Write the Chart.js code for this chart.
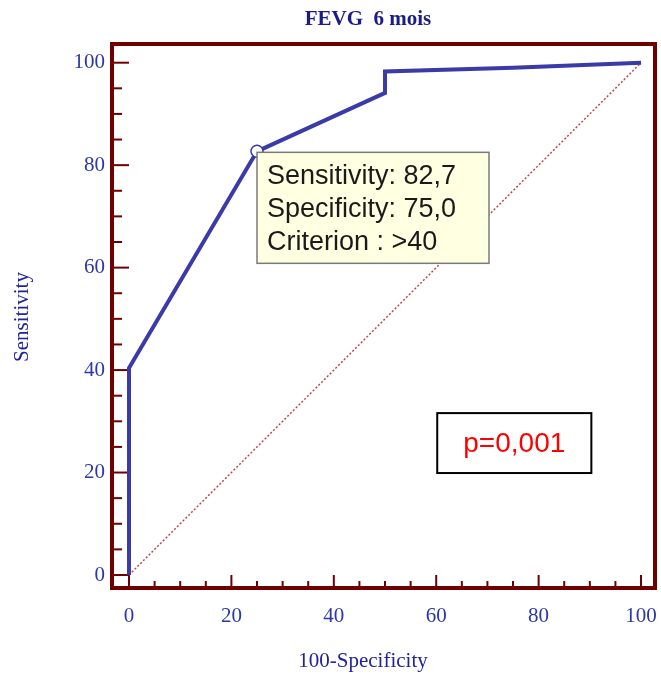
<!DOCTYPE html>
<html>
<head>
<meta charset="utf-8">
<script src="https://cdn.jsdelivr.net/npm/chart.js@4/dist/chart.umd.min.js"></script>
<style>
  html, body { margin: 0; padding: 0; background: #ffffff; }
  #wrap { width: 661px; height: 677px; position: relative; }
</style>
</head>
<body>
<div id="wrap"><canvas id="roc" width="661" height="677"></canvas></div>
<script>
// ROC curve for FEVG at 6 months
const criterionSens = 82.7;
const criterionSpec = 75.0;
const criterionText = '>40';
const rocFpr  = [0, 0, 100 - criterionSpec, 50, 50, 75, 100];   // 100-Specificity
const rocSens = [0, 40.4, criterionSens, 94.1, 98.3, 99.0, 100]; // Sensitivity
const refLine = [0, 100];
const axisTicks = [0, 20, 40, 60, 80, 100];
const minorStep = 5;
const pValueText = 'p=0,001';
const titleText = 'FEVG  6 mois';
const xTitle = '100-Specificity';
const yTitle = 'Sensitivity';

const fmt = v => v.toFixed(1).replace('.', ',');
const infoLines = [
  'Sensitivity: ' + fmt(criterionSens),
  'Specificity: ' + fmt(criterionSpec),
  'Criterion : ' + criterionText
];

const FRAME = '#6e0000';
const LABEL = '#2c38a8';
const CURVE = '#3a3aa8';
const SERIF = '"Liberation Serif", "Times New Roman", serif';
const SANS = '"Liberation Sans", Arial, sans-serif';

const curveData = rocFpr.map((x, i) => ({ x, y: rocSens[i] }));
const critIndex = rocFpr.findIndex((x, i) => x === 100 - criterionSpec && rocSens[i] === criterionSens);

const decor = {
  id: 'decor',
  beforeDatasetsDraw(chart) {
    const { ctx } = chart;
    const xs = chart.scales.x, ys = chart.scales.y;
    const a = chart.chartArea;
    ctx.save();
    ctx.strokeStyle = FRAME;
    ctx.lineWidth = 2;
    // inward tick marks on the left and bottom edges
    for (let v = 0; v <= 100; v += minorStep) {
      const major = v % 20 === 0;
      const py = ys.getPixelForValue(v);
      ctx.beginPath();
      ctx.moveTo(a.left, py);
      ctx.lineTo(major ? xs.getPixelForValue(0) : a.left + 10, py);
      ctx.stroke();
      const px = xs.getPixelForValue(v);
      ctx.beginPath();
      ctx.moveTo(px, a.bottom);
      ctx.lineTo(px, major ? ys.getPixelForValue(0) : a.bottom - 7);
      ctx.stroke();
    }
    ctx.restore();
  },
  afterDatasetsDraw(chart) {
    const { ctx } = chart;
    const xs = chart.scales.x, ys = chart.scales.y;
    const a = chart.chartArea;
    ctx.save();
    // plot frame
    ctx.strokeStyle = FRAME;
    ctx.lineWidth = 4;
    ctx.strokeRect(a.left, a.top, a.right - a.left, a.bottom - a.top);

    // criterion info box anchored at the marked point
    const cx = xs.getPixelForValue(100 - criterionSpec);
    const cy = ys.getPixelForValue(criterionSens);
    const bx = cx, by = cy + 1, bw = 232, bh = 111;
    ctx.fillStyle = '#ffffe1';
    ctx.fillRect(bx, by, bw, bh);
    ctx.strokeStyle = '#7a7a7a';
    ctx.lineWidth = 1.5;
    ctx.strokeRect(bx, by, bw, bh);
    ctx.fillStyle = '#1a1a1a';
    ctx.font = '27px ' + SANS;
    ctx.textAlign = 'left';
    ctx.textBaseline = 'middle';
    infoLines.forEach((t, i) => ctx.fillText(t, bx + 10, by + 24 + i * 33));

    // p-value box
    const px0 = xs.getPixelForValue(60.2), px1 = xs.getPixelForValue(90.3);
    const py0 = ys.getPixelForValue(31.6), py1 = ys.getPixelForValue(19.9);
    ctx.fillStyle = '#ffffff';
    ctx.fillRect(px0, py0, px1 - px0, py1 - py0);
    ctx.strokeStyle = '#000000';
    ctx.lineWidth = 2;
    ctx.strokeRect(px0, py0, px1 - px0, py1 - py0);
    ctx.fillStyle = '#ff0000';
    ctx.font = '28px ' + SANS;
    ctx.textAlign = 'center';
    ctx.fillText(pValueText, (px0 + px1) / 2, (py0 + py1) / 2 + 1);
    ctx.restore();
  },
  afterDraw(chart) {
    const { ctx } = chart;
    ctx.save();
    ctx.textAlign = 'center';
    ctx.textBaseline = 'middle';
    ctx.fillStyle = '#1c1c86';
    ctx.font = 'bold 21px ' + SERIF;
    ctx.fillText(titleText, 368, 20);
    ctx.fillStyle = '#22229a';
    ctx.font = '21px ' + SERIF;
    ctx.fillText(xTitle, 363, 661);
    ctx.translate(22, 317);
    ctx.rotate(-Math.PI / 2);
    ctx.fillText(yTitle, 0, 0);
    ctx.restore();
  }
};

new Chart(document.getElementById('roc'), {
  type: 'scatter',
  data: {
    datasets: [
      {
        label: 'Reference',
        data: refLine.map(v => ({ x: v, y: v })),
        showLine: true,
        borderColor: '#c04848',
        borderWidth: 1.5,
        borderDash: [2, 2],
        pointRadius: 0,
        order: 2
      },
      {
        label: 'ROC',
        data: curveData,
        showLine: true,
        borderColor: CURVE,
        borderWidth: 4,
        borderJoinStyle: 'miter',
        pointRadius: curveData.map((p, i) => i === critIndex ? 6 : 0),
        pointBackgroundColor: '#ffffff',
        pointBorderColor: CURVE,
        pointBorderWidth: 1.5,
        order: 1
      }
    ]
  },
  options: {
    responsive: false,
    animation: false,
    devicePixelRatio: 1,
    layout: { padding: { top: 44, right: 6, left: 0, bottom: 0 } },
    plugins: { legend: { display: false }, tooltip: { enabled: false }, title: { display: false } },
    scales: {
      x: {
        type: 'linear',
        min: -3.32, max: 102.73,
        afterBuildTicks: s => { s.ticks = axisTicks.map(v => ({ value: v })); },
        afterFit: s => { s.height = 89; s.paddingLeft = 0; s.paddingRight = 0; },
        grid: { display: false, drawTicks: false },
        border: { display: false },
        ticks: { color: LABEL, font: { family: SERIF, size: 21 }, padding: 16, maxRotation: 0 }
      },
      y: {
        type: 'linear',
        min: -2.54, max: 103.65,
        afterBuildTicks: s => { s.ticks = axisTicks.map(v => ({ value: v })); },
        afterFit: s => { s.width = 112; s.paddingTop = 0; s.paddingBottom = 0; },
        grid: { display: false, drawTicks: false },
        border: { display: false },
        ticks: { color: LABEL, font: { family: SERIF, size: 21 }, padding: 7 }
      }
    }
  },
  plugins: [decor]
});
</script>
</body>
</html>
